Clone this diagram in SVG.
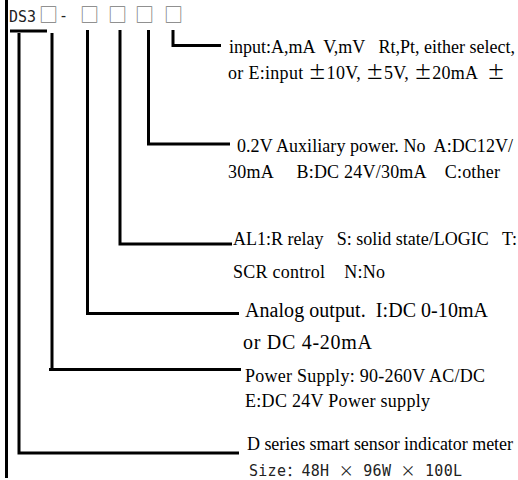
<svg xmlns="http://www.w3.org/2000/svg" width="518" height="480" viewBox="0 0 518 480">
<style>
text { white-space: pre; }
.t { font-family: "Liberation Serif", "Noto Sans CJK SC", serif; font-size: 18px; fill: #000; }
.big { font-size: 20px; }
.m { font-family: "DejaVu Sans Mono", "Noto Sans CJK SC", monospace; font-size: 15px; fill: #222; }
.cjk { font-family: "Noto Sans CJK SC", sans-serif; }
.box { font-family: "Noto Sans CJK SC", sans-serif; font-size: 19px; fill: #777; }
.ln { fill: none; stroke: #000; stroke-width: 3; stroke-linecap: butt; stroke-linejoin: miter; }
</style>
<rect width="518" height="480" fill="#fff"/>
<g id="header">
  <text class="m" x="9" y="21.5" style="font-size:16.5px" textLength="27" lengthAdjust="spacingAndGlyphs">DS3</text>
  <text class="box" x="39" y="22">□</text>
  <text class="m" x="59" y="21" fill="#444">-</text>
  <text class="box" x="80" y="22">□</text>
  <text class="box" x="108" y="22">□</text>
  <text class="box" x="135" y="22">□</text>
  <text class="box" x="164" y="22">□</text>
</g>
<g id="connectors">
  <line class="ln" x1="6.5" y1="0" x2="6.5" y2="478"/>
  <line class="ln" x1="10" y1="31" x2="47" y2="31"/>
  <polyline class="ln" points="173,30 173,45.5 221,45.5"/>
  <polyline class="ln" points="148.5,30 148.5,144 230,144"/>
  <polyline class="ln" points="120,30 120,244 232,244"/>
  <polyline class="ln" points="87.5,30 87.5,313.5 239,313.5"/>
  <polyline class="ln" points="52,33 52,369.5 241,369.5"/>
  <line class="ln" x1="49" y1="369.5" x2="52" y2="369.5"/>
  <polyline class="ln" points="19,33 19,453 239,453"/>
</g>
<g id="input">
  <text class="t" x="229" y="53" textLength="286" lengthAdjust="spacing">input:A,mA  V,mV   Rt,Pt, either select,</text>
  <text class="t" x="228" y="79" textLength="277" lengthAdjust="spacing">or E:input <tspan class="cjk">±</tspan>10V, <tspan class="cjk">±</tspan>5V, <tspan class="cjk">±</tspan>20mA  <tspan class="cjk">±</tspan></text>
</g>
<g id="aux-power">
  <text class="t" x="237" y="152" textLength="276" lengthAdjust="spacing">0.2V Auxiliary power. No  A:DC12V/</text>
  <text class="t" x="228" y="178" textLength="272" lengthAdjust="spacing">30mA     B:DC 24V/30mA    C:other</text>
</g>
<g id="alarm">
  <text class="t" x="233" y="245" textLength="284" lengthAdjust="spacing">AL1:R relay   S: solid state/LOGIC   T:</text>
  <text class="t" x="233" y="278" textLength="152" lengthAdjust="spacing">SCR control    N:No</text>
</g>
<g id="analog-output">
  <text class="t big" x="245" y="317" textLength="243" lengthAdjust="spacing">Analog output.  I:DC 0-10mA</text>
  <text class="t big" x="243" y="349" textLength="129" lengthAdjust="spacing">or DC 4-20mA</text>
</g>
<g id="power-supply">
  <text class="t" x="245" y="382" textLength="240" lengthAdjust="spacing">Power Supply: 90-260V AC/DC</text>
  <text class="t" x="245" y="407" textLength="185" lengthAdjust="spacing">E:DC 24V Power supply</text>
</g>
<g id="series">
  <text class="t" x="247" y="450" textLength="266" lengthAdjust="spacing">D series smart sensor indicator meter</text>
  <text class="m" x="249" y="476" textLength="213" lengthAdjust="spacing">Size：48H <tspan class="cjk">×</tspan> 96W <tspan class="cjk">×</tspan> 100L</text>
</g>
</svg>
